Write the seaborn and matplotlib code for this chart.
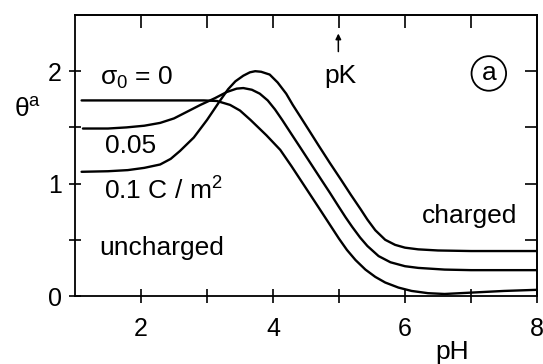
import matplotlib
matplotlib.use("Agg")
import matplotlib.pyplot as plt
import seaborn as sns
import pandas as pd

# ---- data ----
ph_s0 = [1.10, 1.6, 2.2, 2.7, 2.95, 3.15, 3.35, 3.5, 3.66, 3.9, 4.11, 4.28, 4.42, 4.56, 4.7,
         4.85, 5.0, 5.12, 5.25, 5.4, 5.55, 5.7, 5.9, 6.1, 6.35, 6.6, 7.0, 7.5, 8.0]
th_s0 = [1.74, 1.74, 1.74, 1.74, 1.74, 1.735, 1.70, 1.65, 1.566, 1.43, 1.30, 1.155, 1.03, 0.905, 0.78,
         0.645, 0.51, 0.41, 0.32, 0.235, 0.17, 0.12, 0.075, 0.045, 0.025, 0.018, 0.03, 0.045, 0.055]

ph_s005 = [1.12, 1.5, 1.78, 2.05, 2.29, 2.5, 2.7, 2.9, 3.12, 3.3, 3.45, 3.55, 3.68, 3.8, 3.92, 4.03,
           4.14, 4.28, 4.42, 4.57, 4.72, 4.86, 4.99, 5.1, 5.2, 5.32, 5.43, 5.6, 5.78, 6.0, 6.2, 6.6,
           7.0, 8.0]
th_s005 = [1.49, 1.49, 1.50, 1.515, 1.54, 1.58, 1.64, 1.70, 1.76, 1.815, 1.845, 1.85, 1.835, 1.80, 1.74, 1.66,
           1.566, 1.44, 1.315, 1.18, 1.045, 0.92, 0.80, 0.70, 0.615, 0.52, 0.445, 0.355, 0.30, 0.265, 0.25, 0.235,
           0.23, 0.23]

ph_s01 = [1.10, 1.5, 1.8, 2.05, 2.29, 2.45, 2.59, 2.8, 3.0, 3.2, 3.32, 3.43, 3.55, 3.65, 3.73, 3.82,
          3.95, 4.07, 4.2, 4.3, 4.42, 4.55, 4.69, 4.86, 5.03, 5.18, 5.33, 5.43, 5.55, 5.7, 5.85,
          6.0, 6.2, 6.5, 7.0, 8.0]
th_s01 = [1.105, 1.11, 1.12, 1.14, 1.17, 1.22, 1.29, 1.41, 1.566, 1.74, 1.84, 1.91, 1.96, 1.99, 2.0, 1.995,
          1.97, 1.90, 1.80, 1.70, 1.59, 1.47, 1.34, 1.185, 1.035, 0.90, 0.77, 0.68, 0.585, 0.50, 0.455,
          0.43, 0.415, 0.405, 0.40, 0.40]

series = {"0": (ph_s0, th_s0), "0.05": (ph_s005, th_s005), "0.1": (ph_s01, th_s01)}

x_ticks = [2, 4, 6, 8]
x_minor = [3, 5, 7]
y_ticks = [0, 1, 2]
y_minor = [0.5, 1.5]

# ---- style ----
sns.set_theme(style="white")
plt.rcParams["font.family"] = ["Liberation Sans", "DejaVu Sans"]
plt.rcParams["mathtext.fontset"] = "custom"
plt.rcParams["mathtext.rm"] = "Liberation Sans"
plt.rcParams["mathtext.it"] = "Liberation Sans"
plt.rcParams["text.color"] = "black"
plt.rcParams["xtick.color"] = "black"
plt.rcParams["ytick.color"] = "black"
FS = 19
TFS = 18

fig = plt.figure(figsize=(5.43, 3.64), dpi=100)
ax = fig.add_axes([75 / 543, 68 / 364, (537 - 75) / 543, (296 - 15) / 364])

for name, (xs, ys) in series.items():
    df = pd.DataFrame({"pH": xs, "theta": ys})
    sns.lineplot(data=df, x="pH", y="theta", ax=ax, color="black", linewidth=1.7,
                 sort=False, estimator=None)

ax.set_xlim(1, 8)
ax.set_ylim(0, 2.5)
ax.set_xlabel("")
ax.set_ylabel("")
for s in ax.spines.values():
    s.set_linewidth(1.3)
    s.set_color("black")

ax.set_xticks(x_ticks)
ax.set_xticklabels([str(v) for v in x_ticks])
ax.set_xticks(x_minor, minor=True)
ax.set_yticks(y_ticks)
ax.set_yticklabels([str(v) for v in y_ticks])
ax.set_yticks(y_minor, minor=True)
ax.tick_params(axis="x", which="both", direction="inout", length=10, width=1.2,
               bottom=True, top=False, labelsize=TFS, pad=10, colors="black")
ax.tick_params(axis="y", which="both", direction="inout", length=9, width=1.2,
               left=True, right=False, labelsize=TFS, pad=5, colors="black")

top = ax.secondary_xaxis("top")
top.set_xticks(x_ticks[:-1] + x_minor)
top.tick_params(direction="in", length=9, width=1.2, labeltop=False, colors="black")
top.spines["top"].set_linewidth(1.3)
right = ax.secondary_yaxis("right")
right.set_yticks(y_ticks[1:] + y_minor)
right.tick_params(direction="in", length=9, width=1.2, labelright=False, colors="black")
right.spines["right"].set_linewidth(1.3)

# ---- annotations ----
ax.text(1.38, 1.94, "σ$_0$ = 0", fontsize=FS, ha="left", va="center")
ax.text(1.45, 1.335, "0.05", fontsize=FS, ha="left", va="center")
ax.text(1.44, 0.93, "0.1 C / m$^2$", fontsize=FS, ha="left", va="center")
ax.text(1.36, 0.43, "uncharged", fontsize=FS, ha="left", va="center")
ax.text(6.25, 0.716, "charged", fontsize=FS, ha="left", va="center")
ax.text(5.02, 1.96, "pK", fontsize=FS, ha="center", va="center")
ax.annotate("", xy=(4.99, 2.36), xytext=(4.99, 2.15),
            arrowprops=dict(arrowstyle="-|>", color="black", lw=1.1, mutation_scale=8))
ax.text(7.27, 1.98, "a", fontsize=FS, ha="center", va="center",
        bbox=dict(boxstyle="circle,pad=0.2", fc="none", ec="black", lw=1.3))

fig.text(28 / 543, 1 - 110 / 364, "θ$^{\\rm a}$", fontsize=FS, ha="center", va="center")
fig.text(452 / 543, 1 - 352 / 364, "pH", fontsize=FS, ha="center", va="center")

fig.savefig("out.png", dpi=100, facecolor="white")
